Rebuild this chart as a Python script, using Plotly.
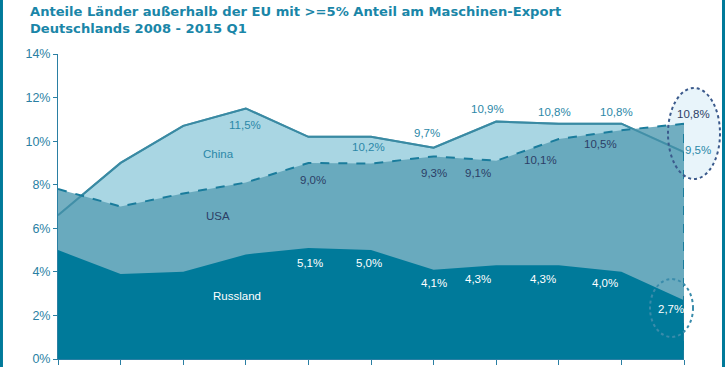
import plotly.graph_objects as go

# Hidden x categories (11 periods, 2008 - 2015 Q1)
periods = ["P1", "P2", "P3", "P4", "P5", "P6", "P7", "P8", "P9", "P10", "P11"]
china = [6.6, 9.0, 10.7, 11.5, 10.2, 10.2, 9.7, 10.9, 10.8, 10.8, 9.5]
usa = [7.8, 7.0, 7.6, 8.1, 9.0, 8.97, 9.3, 9.1, 10.1, 10.5, 10.8]
russland = [5.0, 3.9, 4.0, 4.8, 5.1, 5.0, 4.1, 4.3, 4.3, 4.0, 2.7]
y_ticks = [0, 2, 4, 6, 8, 10, 12, 14]
y_tick_labels = ["0%", "2%", "4%", "6%", "8%", "10%", "12%", "14%"]

# indices of labelled points
china_lbl_idx = [3, 5, 6, 7, 8, 9, 10]
usa_lbl_idx = [4, 6, 7, 8, 9, 10]
rus_lbl_idx = [4, 5, 6, 7, 8, 9, 10]

x = list(range(len(periods)))

TEAL = "#2a7fa3"
DARK = "#007a9a"
fig = go.Figure()

fig.add_trace(go.Scatter(x=x, y=china, mode="lines", fill="tozeroy",
                         fillcolor="#a9d6e3", line=dict(color="#3a8aa3", width=2),
                         hoverinfo="skip"))
fig.add_trace(go.Scatter(x=x, y=usa, mode="lines", fill="tozeroy",
                         fillcolor="rgba(95,163,184,0.87)", line=dict(width=0),
                         hoverinfo="skip"))
fig.add_trace(go.Scatter(x=x, y=china, mode="lines",
                         line=dict(color="rgba(58,138,163,0.75)", width=2),
                         hoverinfo="skip"))
fig.add_trace(go.Scatter(x=x, y=russland, mode="lines", fill="tozeroy",
                         fillcolor=DARK, line=dict(width=0, color=DARK),
                         hoverinfo="skip"))
fig.add_trace(go.Scatter(x=x, y=usa, mode="lines",
                         line=dict(color="#1a7c9c", width=2, dash="dash"),
                         hoverinfo="skip"))

# vertical dashed right edge of USA area
fig.add_shape(type="line", xref="x", yref="y", x0=x[-1], x1=x[-1], y0=0, y1=usa[-1],
              line=dict(color="#1a7c9c", width=2, dash="dash"), layer="above")

def fmt(v):
    return f"{v:.1f}".replace(".", ",") + "%"

LBL_FONT = "Liberation Sans"
LBL_SIZE = 11.5
ann = []
china_shift = {3: (-1, -17), 5: (-3, -10), 6: (-7, 15), 7: (-9, 13), 8: (-4, 12), 9: (-5, 12), 10: (14, 2)}
usa_shift = {4: (5, -17), 6: (0, -17), 7: (-18, -12), 8: (-18, -21), 9: (-21, -14), 10: (9, 10)}
rus_shift = {4: (2, -15), 5: (-2, -13), 6: (0, -13), 7: (-18, -14), 8: (-16, -14), 9: (-16, -11), 10: (-13, -9)}

for i in china_lbl_idx:
    dx, dy = china_shift[i]
    ann.append(dict(x=x[i], y=china[i], text=fmt(china[i]), showarrow=False, xshift=dx, yshift=dy,
                    font=dict(family=LBL_FONT, size=LBL_SIZE, color="#2b88a8")))
for i in usa_lbl_idx:
    dx, dy = usa_shift[i]
    ann.append(dict(x=x[i], y=usa[i], text=fmt(usa[i]), showarrow=False, xshift=dx, yshift=dy,
                    font=dict(family=LBL_FONT, size=LBL_SIZE, color="#2c3e66")))
for i in rus_lbl_idx:
    dx, dy = rus_shift[i]
    ann.append(dict(x=x[i], y=russland[i], text=fmt(russland[i]), showarrow=False, xshift=dx, yshift=dy,
                    font=dict(family=LBL_FONT, size=LBL_SIZE, color="white")))

# series names
ann.append(dict(x=2.56, y=9.41, text="China", showarrow=False,
                font=dict(family=LBL_FONT, size=LBL_SIZE, color="#2b88a8")))
ann.append(dict(x=2.56, y=6.57, text="USA", showarrow=False,
                font=dict(family=LBL_FONT, size=LBL_SIZE, color="#2c3e66")))
ann.append(dict(x=2.86, y=2.9, text="Russland", showarrow=False,
                font=dict(family=LBL_FONT, size=LBL_SIZE, color="white")))

# title
ann.append(dict(xref="paper", yref="paper", x=-0.0479, y=1.17, xanchor="left", yanchor="top",
                align="left", showarrow=False,
                text="<b>Anteile Länder außerhalb der EU mit >=5% Anteil am Maschinen-Export<br>Deutschlands 2008 - 2015 Q1</b>",
                font=dict(family="DejaVu Sans", size=13.1, color="#1a86a8")))

# ellipses (paper refs so they are not clipped by the plot area)
fig.add_shape(type="circle", xref="paper", yref="paper", x0=0.9744, x1=1.0575, y0=0.590, y1=0.8885,
              fillcolor="#e8f4fa", line=dict(width=0), layer="below")
fig.add_shape(type="circle", xref="paper", yref="paper", x0=0.9744, x1=1.0575, y0=0.590, y1=0.8885,
              line=dict(color="#3b5a8c", width=2, dash="dot"), layer="above")
fig.add_shape(type="circle", xref="paper", yref="paper", x0=0.9457, x1=1.0144, y0=0.0721, y1=0.2623,
              line=dict(color="#3a8cab", width=2, dash="dot"), layer="above")

# side bars
fig.add_shape(type="rect", xref="paper", yref="paper", x0=-0.0927, x1=-0.0879, y0=-0.03, y1=1.18,
              fillcolor=DARK, line=dict(width=0))
fig.add_shape(type="rect", xref="paper", yref="paper", x0=1.0607, x1=1.07, y0=-0.03, y1=1.18,
              fillcolor=DARK, line=dict(width=0))

fig.update_layout(
    width=725, height=367,
    margin=dict(l=58, r=41, t=54, b=8, pad=0),
    paper_bgcolor="white", plot_bgcolor="white",
    showlegend=False,
    annotations=ann,
    xaxis=dict(range=[0, 10], tickvals=x, showticklabels=False, ticks="outside", ticklen=5,
               tickcolor=TEAL, showline=True, linecolor=TEAL, linewidth=1, showgrid=False,
               zeroline=False, fixedrange=True, automargin=False),
    yaxis=dict(range=[0, 14], tickvals=y_ticks, ticktext=y_tick_labels, ticks="outside", ticklen=4,
               tickcolor=TEAL, showline=True, linecolor=TEAL, linewidth=1, showgrid=False,
               zeroline=False, tickfont=dict(family="Liberation Sans", size=12.5, color=TEAL),
               fixedrange=True, automargin=False),
)

fig.write_html("out.html", config={"displayModeBar": False},
               post_script="document.body.style.margin='0';document.body.style.overflow='hidden';")
